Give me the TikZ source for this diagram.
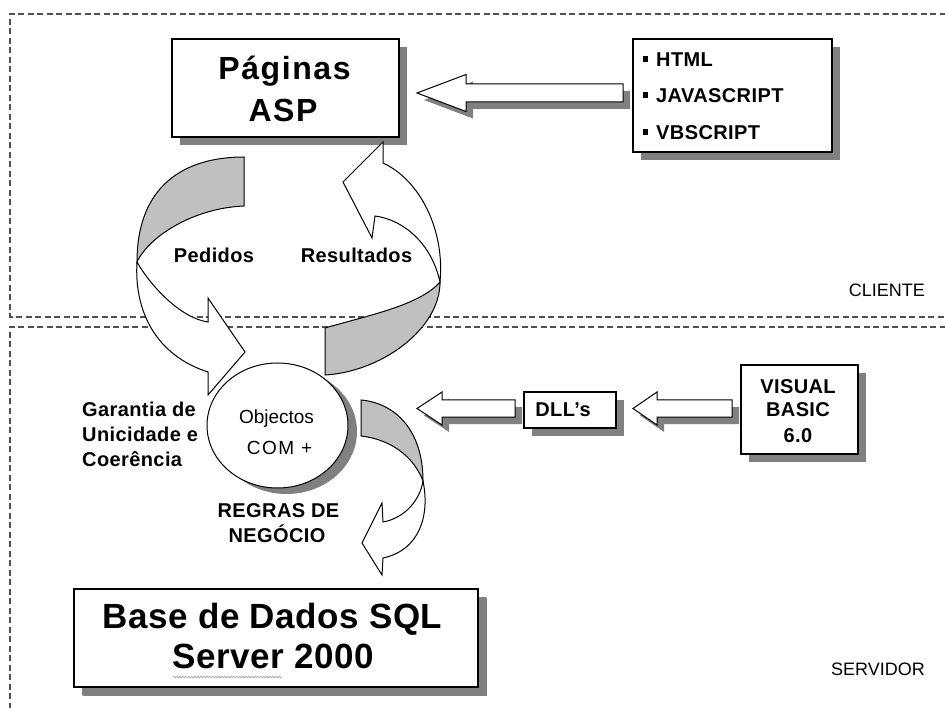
\documentclass[tikz,border=0pt]{standalone}
\usepackage{fontspec}
\setmainfont{Liberation Sans}
\usetikzlibrary{shapes.geometric,shadows,decorations.pathmorphing}
\definecolor{shad}{HTML}{808080}
\definecolor{ribbon}{HTML}{C0C0C0}
\definecolor{dashc}{HTML}{505050}
\newcommand\LArrow[6]{% tip x, tip y, tail x, head base x, half head, half shaft
  \begin{scope}[shift={(7,7)}]
    \fill[shad] (#1,#2) -- (#4,#2-#5) -- (#4,#2-#6) -- (#3,#2-#6) -- (#3,#2+#6) -- (#4,#2+#6) -- (#4,#2+#5) -- cycle;
  \end{scope}
  \draw[outl, fill=white] (#1,#2) -- (#4,#2-#5) -- (#4,#2-#6) -- (#3,#2-#6) -- (#3,#2+#6) -- (#4,#2+#6) -- (#4,#2+#5) -- cycle;
}
\begin{document}
\begin{tikzpicture}[x=1pt,y=-1pt,line join=miter,
  outl/.style={draw=black, line width=1pt},
  box/.style={draw=black, line width=1.3pt, fill=white, inner sep=0pt,
    drop shadow={shadow xshift=8pt, shadow yshift=-8pt, fill=shad, opacity=1}},
  region/.style={draw=dashc, line width=1.3pt, dash pattern=on 6pt off 3.5pt},
  bigtxt/.style={font=\fontsize{32}{38}\selectfont\bfseries\addfontfeatures{LetterSpace=5}},
  hugetxt/.style={font=\fontsize{35}{40}\selectfont\bfseries\addfontfeatures{LetterSpace=1.5}},
  midtxt/.style={font=\fontsize{20}{24}\selectfont\bfseries\addfontfeatures{LetterSpace=2}, inner sep=0pt},
  listtxt/.style={font=\fontsize{20}{24}\selectfont\bfseries\addfontfeatures{LetterSpace=2}, inner sep=0pt, anchor=base west},
  plaintxt/.style={font=\fontsize{18}{22}\selectfont, inner sep=0pt},
  comtxt/.style={font=\fontsize{19}{22}\selectfont, inner sep=0pt},
  comtxtw/.style={font=\fontsize{19}{22}\selectfont\addfontfeatures{LetterSpace=8}, inner sep=0pt},
  rib/.style={draw=black, line width=1pt}]
\useasboundingbox (0,0) rectangle (945,708);
\fill[white] (0,0) rectangle (945,708);

% regions
\begin{scope}
\clip (0,0) rectangle (945,708);
\draw[region] (955,14) -- (10,14) -- (10,317) -- (955,317);
\draw[region] (955,327) -- (10,327) -- (10,720);
\end{scope}

% boxes
\node[box, minimum width=227pt, minimum height=98pt] (asp) at (285.5,88) {};
\node[box, minimum width=199pt, minimum height=113pt] (langs) at (732.5,95.5) {};
\node[box, minimum width=92pt, minimum height=36pt] (dll) at (570,410) {};
\node[box, minimum width=117pt, minimum height=89pt] (vb) at (799.5,409.5) {};
\node[box, minimum width=404pt, minimum height=98pt, drop shadow={shadow xshift=9pt, shadow yshift=-9pt, fill=shad, opacity=1}] (db) at (276,638) {};

% block arrows
\LArrow{417}{93}{623}{466}{18.5}{9}
\LArrow{417}{408.5}{515}{442}{16.5}{8.5}
\LArrow{633}{408.5}{732}{657}{16.5}{8.5}

% Pedidos ribbon
\draw[rib, fill=ribbon] (244,157) .. controls (185,157) and (137,185) .. (137,262)
  .. controls (150,235) and (195,208) .. (244,206) -- cycle;
\draw[rib, fill=white] (137,262) .. controls (150,285) and (180,318) .. (208,322)
  -- (208,298) -- (245,352) -- (208,395) -- (208,372)
  .. controls (155,355) and (134,310) .. (137,262) -- cycle;

% Resultados ribbon
\draw[rib, fill=ribbon] (440,282) .. controls (440,330) and (380,372) .. (325,375)
  -- (325,328) .. controls (370,315) and (420,305) .. (440,282) -- cycle;
\draw[rib, fill=white] (440,282) .. controls (445,230) and (420,180) .. (383,163)
  -- (383,142) -- (343,182) -- (372,238) -- (375,216)
  .. controls (405,220) and (432,245) .. (440,282) -- cycle;

% Regras ribbon
\draw[rib, fill=ribbon] (361,400) .. controls (395,403) and (423,430) .. (423,481)
  .. controls (415,460) and (395,440) .. (361,436) -- cycle;
\draw[rib, fill=white] (423,481) .. controls (430,515) and (420,550) .. (383,558)
  -- (382,575) -- (362,543) -- (382,503) -- (383,522)
  .. controls (405,518) and (420,500) .. (423,481) -- cycle;

% COM+ ellipse
\node[ellipse, draw=black, line width=1pt, fill=white, inner sep=0pt,
  minimum width=141pt, minimum height=125pt,
  drop shadow={shadow xshift=9pt, shadow yshift=-6pt, fill=shad, opacity=1}] (com) at (277.5,425.5) {};

% texts
\node[bigtxt, anchor=base, inner sep=0pt] (t1) at (284.5,80) {Páginas};
\node[bigtxt, anchor=base, inner sep=0pt] (t2) at (283,122) {ASP};

\node[listtxt] (l1) at (643,67) {\rule[5pt]{5pt}{6pt}\hspace{8pt}HTML};
\node[listtxt] (l2) at (643,103) {\rule[5pt]{5pt}{6pt}\hspace{8pt}JAVASCRIPT};
\node[listtxt] (l3) at (643,140) {\rule[5pt]{5pt}{6pt}\hspace{8pt}VBSCRIPT};

\node[midtxt, anchor=base] (ped) at (214,263) {Pedidos};
\node[midtxt, anchor=base] (res) at (356.5,263) {Resultados};

\node[midtxt, anchor=base west] (g1) at (82,417) {Garantia de};
\node[midtxt, anchor=base west] (g2) at (82,441) {Unicidade e};
\node[midtxt, anchor=base west] (g3) at (82,466) {Coerência};

\node[comtxt, anchor=base] (o1) at (276.5,423) {Objectos};
\node[comtxtw, anchor=base] (o2) at (279.5,454) {COM +};

\node[midtxt, anchor=base] (r1) at (278.5,517) {REGRAS DE};
\node[midtxt, anchor=base] (r2) at (277,542) {NEGÓCIO};

\node[midtxt, anchor=base] (dt) at (563,417) {DLL’s};

\node[midtxt, anchor=base] (v1) at (798,393) {VISUAL};
\node[midtxt, anchor=base] (v2) at (798,417) {BASIC};
\node[midtxt, anchor=base] (v3) at (798,442) {6.0};

\node[hugetxt, anchor=base, inner sep=0pt] (b1) at (272.5,628) {Base de Dados SQL};
\node[hugetxt, anchor=base, inner sep=0pt] (b2) at (273,668) {Server 2000};
\draw[gray!70, line width=0.6pt, decorate, decoration={zigzag, segment length=3pt, amplitude=1pt}] (173,677) -- (282,677);

\node[plaintxt, anchor=base east] (cli) at (925,297) {CLIENTE};
\node[plaintxt, anchor=base east] (srv) at (925,675) {SERVIDOR};
\end{tikzpicture}
\end{document}
